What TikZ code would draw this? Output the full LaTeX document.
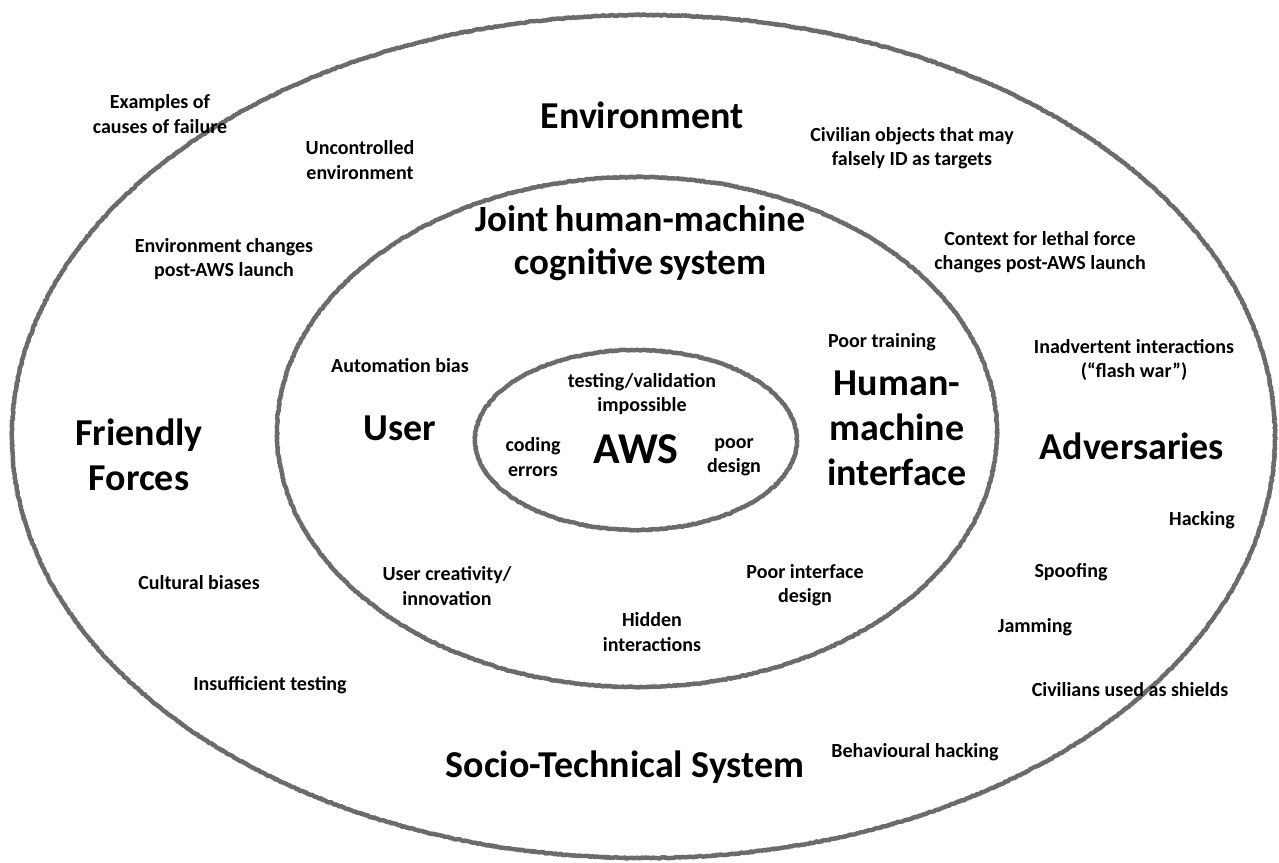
\documentclass[tikz,border=0pt]{standalone}
\usepackage{fontspec}
\setmainfont{Carlito}
\usetikzlibrary{decorations.pathmorphing}
\begin{document}
\begin{tikzpicture}[x=1pt,y=-1pt,
  ring/.style={draw=black!58, line width=4.4pt, line join=round, line cap=round, decorate,
    decoration={random steps, segment length=1.2pt, amplitude=0.6pt}},
  small/.style={font=\bfseries\fontsize{20}{24.5}\selectfont, align=center, inner sep=0pt},
  big/.style={font=\bfseries\fontsize{38}{45}\selectfont, align=center, inner sep=0pt},
  joint/.style={font=\bfseries\fontsize{37}{43}\selectfont, align=center, inner sep=0pt},
  aws/.style={font=\bfseries\fontsize{44}{48}\selectfont, inner sep=0pt}]
\useasboundingbox[fill=white] (0,0) rectangle (1279,862);
% rings
\draw[ring] (643.5,436.5) ellipse [x radius=631.5, y radius=421.5];
\draw[ring] (637,432) ellipse [x radius=360, y radius=255];
\draw[ring] (636,440) ellipse [x radius=161, y radius=90];
% outer ring texts
\node[small] (ex) at (160,114) {Examples of\\causes of failure};
\node[big] (env) at (642,115) {Environment};
\node[small] (unc) at (360,160) {Uncontrolled\\environment};
\node[small] (civ) at (912,148) {Civilian objects that may\\falsely ID as targets};
\node[small] (ctx) at (1040,252) {Context for lethal force\\changes post-AWS launch};
\node[small] (envch) at (224,259) {Environment changes\\post-AWS launch};
\node[small] (inad) at (1134,360) {Inadvertent interactions\\(“flash war”)};
\node[big] (ff) at (139,455) {Friendly\\Forces};
\node[big] (adv) at (1132,446) {Adversaries};
\node[small] (hack) at (1202,520) {Hacking};
\node[small] (spoof) at (1071,572) {Spoofing};
\node[small] (cult) at (199,583) {Cultural biases};
\node[small] (jam) at (1035,627) {Jamming};
\node[small] (insuf) at (270,685) {Insufficient testing};
\node[small] (civsh) at (1130,690) {Civilians used as shields};
\node[big] (stsys) at (625,767) {Socio-Technical System};
\node[small] (behav) at (915,752) {Behavioural hacking};
% middle ring texts
\node[joint] (joint) at (640,243) {Joint\,human-machine\\cognitive\,system};
\node[small] (train) at (882,342) {Poor training};
\node[small] (autob) at (400,366) {Automation bias};
\node[big] (user) at (400,428) {User};
\node[big] (hmi) at (897,428) {Human-\\machine\\interface};
\node[small] (creat) at (447,586) {User creativity/\\innovation};
\node[small] (pif) at (805,585) {Poor interface\\design};
\node[small] (hidden) at (652,632) {Hidden\\interactions};
% inner ring texts
\node[small] (test) at (642,394) {testing/validation\\impossible};
\node[small] (code) at (533,457) {coding\\errors};
\node[aws] (awsn) at (636,449) {AWS};
\node[small] (pdes) at (734,457) {poor\\design};
\end{tikzpicture}
\end{document}
